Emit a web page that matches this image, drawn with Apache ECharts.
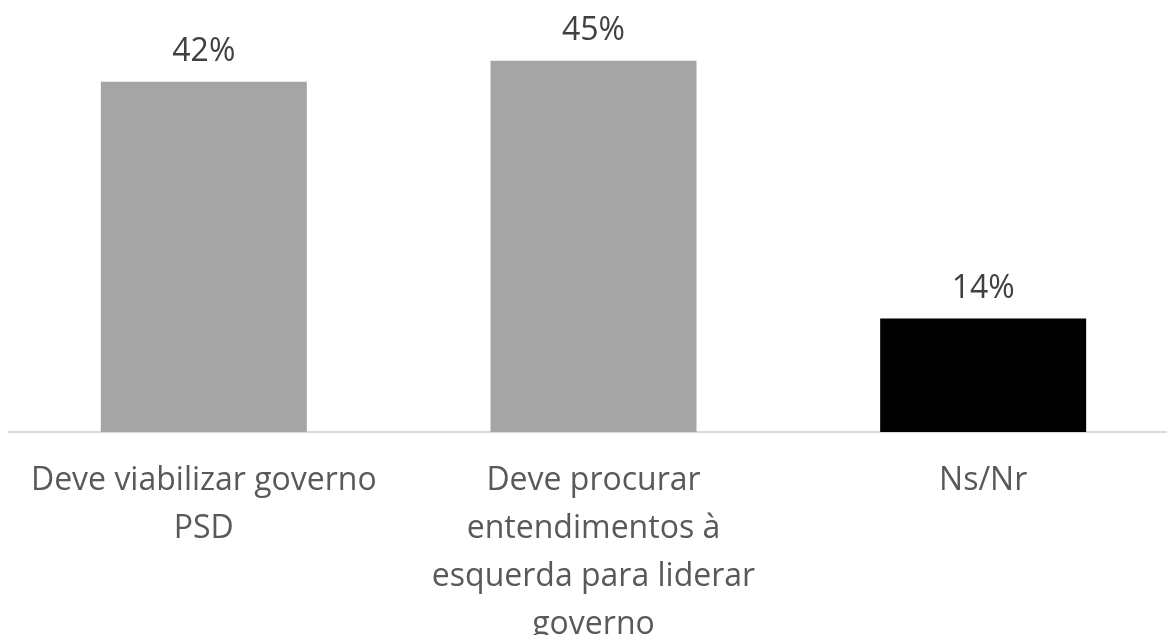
<!DOCTYPE html>
<html>
<head>
<meta charset="utf-8">
<script src="https://cdn.jsdelivr.net/npm/echarts@6/dist/echarts.min.js"></script>
<style>html,body{margin:0;padding:0;background:#fff}#c{width:1167px;height:635px}</style>
</head>
<body>
<div id="c"></div>
<script>
const categories = ['Deve viabilizar governo\nPSD', 'Deve procurar\nentendimentos à\nesquerda para liderar\ngoverno', 'Ns/Nr'];
const values = [42.0, 44.5, 13.6];
const barColors = ['#a5a5a5', '#a5a5a5', '#000000'];

const chart = echarts.init(document.getElementById('c'));
chart.setOption({
  animation: false,
  grid: { left: 9, top: 15, width: 1169, height: 417, containLabel: false, outerBoundsMode: 'none' },
  xAxis: {
    type: 'category',
    data: categories,
    axisLine: { lineStyle: { color: '#d9d9d9', width: 2 } },
    axisTick: { show: false },
    axisLabel: {
      fontFamily: 'Open Sans', fontSize: 32, color: '#595959',
      lineHeight: 48, margin: 25, interval: 0
    }
  },
  yAxis: { type: 'value', min: 0, max: 50, show: false, splitLine: { show: false } },
  series: [{
    type: 'bar',
    barWidth: 206,
    data: values.map((v, i) => ({ value: v, itemStyle: { color: barColors[i] } })),
    label: {
      show: true, position: 'top', distance: 10,
      formatter: p => Math.round(p.value) + '%',
      fontFamily: 'Open Sans', fontSize: 32, color: '#404040', lineHeight: 40
    }
  }]
});
</script>
</body>
</html>
